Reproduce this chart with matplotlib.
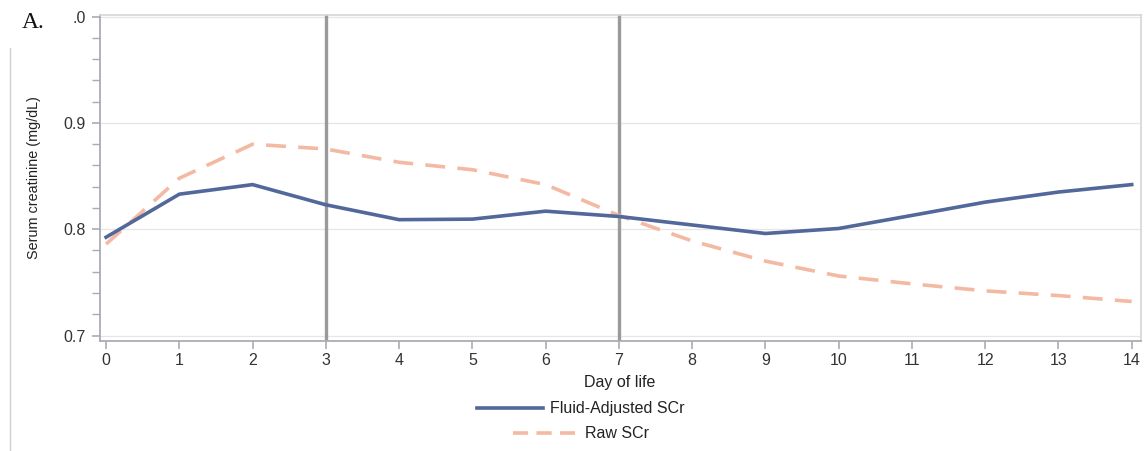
import matplotlib
matplotlib.use("Agg")
import matplotlib.pyplot as plt
from matplotlib.lines import Line2D
from matplotlib.ticker import FixedLocator, FixedFormatter, MultipleLocator

days = list(range(15))
fluid_adjusted = [0.7925, 0.833, 0.842, 0.823, 0.809, 0.8095, 0.817, 0.812,
                  0.804, 0.796, 0.8007, 0.813, 0.8255, 0.835, 0.842]
raw_scr = [0.786, 0.848, 0.880, 0.8755, 0.863, 0.856, 0.842, 0.813,
           0.789, 0.770, 0.756, 0.7486, 0.742, 0.7376, 0.732]
ref_days = [3, 7]
y_ticks = [0.7, 0.8, 0.9, 1.0]
y_tick_labels = ["0.7", "0.8", "0.9", ".0"]
series_labels = ["Fluid-Adjusted SCr", "Raw SCr"]

plt.rcParams['font.family'] = ['Liberation Sans', 'DejaVu Sans']

W, H = 1144, 451
fig = plt.figure(figsize=(W / 100, H / 100), dpi=100)
ax = fig.add_axes([99.5 / W, 1 - 340.5 / H, (1140.5 - 99.5) / W, (340.5 - 15) / H])

blue = "#52689a"
salmon = "#f3b9a2"
spine_c = "#a9adb3"
dash = (5.5, 3.4)

for y in y_ticks:
    ax.axhline(y, color="#e6e6e6", lw=0.9, zorder=0)
for d in ref_days:
    ax.axvline(d, color="#9a9a9a", lw=2.4, zorder=1)

ax.plot(days, raw_scr, color=salmon, lw=2.6, dashes=dash, zorder=2)
ax.plot(days, fluid_adjusted, color=blue, lw=2.6, zorder=3)

ax.set_xlim(-0.09, 14.12)
ax.set_ylim(0.6953, 1.0016)
ax.xaxis.set_major_locator(FixedLocator(days))
ax.yaxis.set_major_locator(FixedLocator(y_ticks))
ax.yaxis.set_major_formatter(FixedFormatter(y_tick_labels))
ax.yaxis.set_minor_locator(MultipleLocator(0.02))

ax.tick_params(axis="both", which="both", direction="out", color=spine_c,
               labelcolor="#333333", labelsize=11.5)
ax.tick_params(axis="both", which="major", length=6, width=1.2)
ax.tick_params(axis="y", which="minor", length=6, width=1.0)
ax.tick_params(axis="y", which="major", pad=4)
ax.tick_params(axis="x", pad=3)

for side in ["left", "bottom"]:
    ax.spines[side].set_color(spine_c)
    ax.spines[side].set_linewidth(1.3)
for side in ["top", "right"]:
    ax.spines[side].set_color("#d4d6d9")
    ax.spines[side].set_linewidth(1.2)

ax.set_xlabel("Day of life", fontsize=11.5, color="#222222", labelpad=5)
ax.set_ylabel("Serum creatinine (mg/dL)", fontsize=10.4, color="#222222", labelpad=16)

# Legend (manual, centered rows)
fig.add_artist(Line2D([477 / W, 543 / W], [1 - 408 / H, 1 - 408 / H],
                      color=blue, lw=2.6, transform=fig.transFigure))
fig.text(550 / W, 1 - 408 / H, series_labels[0], fontsize=11.5, color="#222222",
         va="center", ha="left")
fig.add_artist(Line2D([513 / W, 575 / W], [1 - 433 / H, 1 - 433 / H],
                      color=salmon, lw=2.6, dashes=(4.2, 2.3), transform=fig.transFigure))
fig.text(585 / W, 1 - 433 / H, series_labels[1], fontsize=11.5, color="#222222",
         va="center", ha="left")

# Panel label and side rule
fig.text(22 / W, 1 - 22 / H, "A.", fontsize=17, family=["Liberation Serif"],
         va="center", ha="left", color="#111111")
fig.add_artist(Line2D([10 / W, 10 / W], [1 - 48 / H, 0], color="#d0d0d0", lw=1.0,
                      transform=fig.transFigure))

fig.savefig("out.png", dpi=100)
